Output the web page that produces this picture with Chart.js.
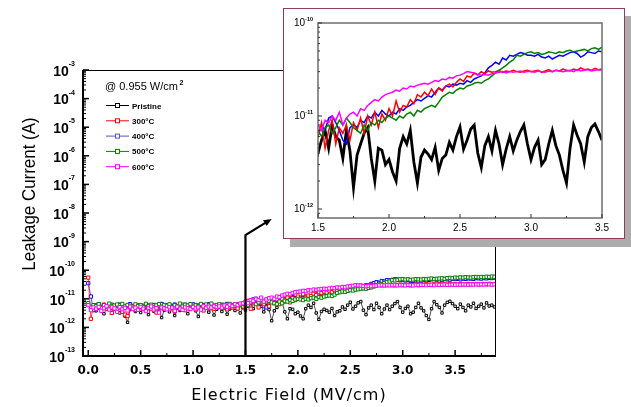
<!DOCTYPE html>
<html><head><meta charset="utf-8">
<script src="https://cdn.jsdelivr.net/npm/chart.js@4.4.1/dist/chart.umd.min.js"></script>
<style>
html,body{margin:0;padding:0;background:#fff;width:631px;height:407px;overflow:hidden;}
#main{position:absolute;left:0;top:0;}
#insetBox{position:absolute;left:283px;top:8px;width:340px;height:229px;border:1px solid #8e3b63;background:#fff;box-shadow:7px 8px 0 #adadad;}
#inset{position:absolute;left:0;top:0;}
</style></head><body>
<canvas id="main" width="631" height="407"></canvas>
<div id="insetBox"><canvas id="inset" width="340" height="229"></canvas></div>
<script>
// Electric field (MV/cm)
const fieldMVcm = [
0,0.025,0.05,0.075,0.1,0.125,0.15,0.175,0.2,0.225,
0.25,0.275,0.3,0.325,0.35,0.375,0.4,0.425,0.45,0.475,
0.5,0.525,0.55,0.575,0.6,0.625,0.65,0.675,0.7,0.725,
0.75,0.775,0.8,0.825,0.85,0.875,0.9,0.925,0.95,0.975,
1,1.025,1.05,1.075,1.1,1.125,1.15,1.175,1.2,1.225,
1.25,1.275,1.3,1.325,1.35,1.375,1.4,1.425,1.45,1.475,
1.5,1.525,1.55,1.575,1.6,1.625,1.65,1.675,1.7,1.725,
1.75,1.775,1.8,1.825,1.85,1.875,1.9,1.925,1.95,1.975,
2,2.025,2.05,2.075,2.1,2.125,2.15,2.175,2.2,2.225,
2.25,2.275,2.3,2.325,2.35,2.375,2.4,2.425,2.45,2.475,
2.5,2.525,2.55,2.575,2.6,2.625,2.65,2.675,2.7,2.725,
2.75,2.775,2.8,2.825,2.85,2.875,2.9,2.925,2.95,2.975,
3,3.025,3.05,3.075,3.1,3.125,3.15,3.175,3.2,3.225,
3.25,3.275,3.3,3.325,3.35,3.375,3.4,3.425,3.45,3.475,
3.5,3.525,3.55,3.575,3.6,3.625,3.65,3.675,3.7,3.725,
3.75,3.775,3.8,3.825,3.85,3.875];

// Leakage current, in pA (1e-12 A)
const pristine = [
6,4.5,5,3.8,5.2,4.1,3,4.6,5.3,3.9,
4.4,5.1,3.2,4.8,2.5,1.5,4.2,5,3.6,4.7,
3.3,5.2,4.1,2.8,4.9,3.7,5.3,4.4,2.2,4,
5,3.5,4.6,2.6,4.8,3.9,5.1,4.2,3,4.5,
5.4,3.8,2.4,4.7,4,5.2,3.4,4.6,2.7,4.3,
5,3.6,4.8,2.9,4.4,5.3,3.9,4.5,3.2,4.9,
4,5.5,7,4.5,8,6,5.5,3.5,7,4.2,
1.7,3.8,5,6.5,7.5,3.5,2,4.5,4.3,3,
3.4,2.5,2,4.5,6,5,7,3.2,1.9,3.6,
4.3,3.9,3.4,4.6,2.6,3.5,3.8,5.2,4.3,6,
7.6,4.4,5.5,7.2,8,4,2.8,4.8,6,4.2,
7,5,3,4.4,6,4.2,5.5,6.8,8,5,
3.4,4.6,5.5,3,3.4,5,7,4.8,3.8,2.6,
1.9,4.5,8,6.2,5,3.2,6,7.5,8.2,6.8,
5.5,4.5,6.5,5,3.8,6,5.2,7,4.6,5.5,
6.5,4.8,7.2,5.6,6,5.2];
const c300 = [
55,2,5.5,6,4.8,5.2,6.3,4.5,5.8,3.2,
5,4.4,6,3.5,2.8,2.5,4.8,5.5,4.1,6,
4.6,5.3,3.8,5.9,4.4,5,3.3,5.6,4.7,5.2,
6,4.3,5.1,3.6,5.5,4.8,6.2,4,5.3,4.6,
5.7,4.2,5,6.1,3.9,5.4,4.7,5.8,4.4,5.1,
6,4.9,5.5,4.3,6.2,5,5.7,4.6,6.3,5.4,
6,8.5,4.5,7,9,5,7.5,6.5,8,5.5,
8.5,7,9.5,6.5,10,8,11,7.5,10.5,9,
12,10,14.5,11,13,12.5,15,13.5,17,16,
18,16.5,19.5,17,20,18.5,21,22,20.5,23,
25,23.5,27,26,29,27.5,30,28.5,30.5,29.5,
30,31,29.5,30.5,30,31,30,29.5,30.5,31,
30,30.5,31,29.5,30.5,31.5,30,31,30.5,32,
31,30.5,32,31,33,31.5,32,31,32.5,31.5,
32,31.5,32.5,32,31.5,33,32,32.5,33,32,
32.5,33,32,33.5,32.5,33];
const c400 = [
35,12,4,5.5,6.5,5,6,4.8,5.5,6.2,
5.2,4.6,6.3,5.5,4.9,5.8,6.5,5,5.6,4.4,
5.9,5.3,6.4,4.7,5.5,6.1,5,5.7,6.6,5.2,
4.8,6,5.4,6.3,5.1,5.6,4.6,6.2,5.3,5.9,
6.4,5,5.8,4.9,6.1,5.5,6.5,5.2,5.7,6,
5.3,6.2,5.6,6.6,5,5.9,6.3,5.4,6.1,5.7,
6,8,7,9.5,10,8.5,7,5.5,5,7.5,
8,7.5,9,8.5,10,9.5,11,10,11.5,10.5,
10,11,10.5,12,11.5,12.5,13,14,15,14.5,
15.5,16.5,16,18,20,19,21,20.5,22,21.5,
22.5,22,24,23,25,26,27,29,33,35,
38,36,42,40,45,44,46,48,47,45,
45,44,46,43,42,44,41,43,45,44,
46,48,49,47,43,45,49,48,47,50,
49,50,48,51,50,52,51,50,53,52,
51,53,52,54,53,55];
const c500 = [
7,5,6,5.5,6.5,4.8,6,5.3,6.8,5.6,
5.8,6.3,5,6.6,5.4,6.1,5.7,4.9,6.4,5.5,
6,5.2,6.7,5.6,6.2,5,5.9,6.5,5.3,6.1,
5.7,6.4,5.1,6,5.5,6.8,5.4,6.2,5.8,6.5,
5.2,6,5.6,6.6,5.3,6.3,5.9,6.8,5.5,6.1,
6.4,5.7,6.2,5.4,6.6,6,5.8,6.5,6.1,6.7,
7,6,7.5,8,6.5,7.5,9,8,9.5,8.5,
7.5,7,6.5,8,7,8.5,8,9,8.5,9.5,
10,9.5,9,10,9.5,10.5,11,10,11.5,11,
12,12.5,13,12.5,14,16,17,18,17.5,19,
20,19.5,21,21.5,22.5,23,22.5,24,25,27,
29,31,33,35,38,40,45,44,46,48,
49,47,48,46,47,49,48,47,49,48,
50,51,49,50,51,52,50,53,54,52,
55,54,56,55,57,56,55,57,58,57,
58,57,59,58,60,59];
const c600 = [
6,4,5,4.5,5.2,3.8,4.7,5.5,4.2,5,
4.6,3.5,5.1,4.3,4.8,3.9,5.3,4.4,4.9,4.1,
5.2,4.5,3.7,4.8,5.4,4.2,4.7,3.3,5,4.6,
4.3,5.1,4.9,3.8,5.3,4.5,4.1,5,4.7,4.4,
5.2,4.6,5,4.2,5.5,4.8,5.3,4.9,5.6,5.1,
5.4,4.9,5.8,5.3,6.2,5.6,6.5,6,6.8,7,
8,7,9,8.5,10,9,11,8,9.5,10.5,
11,10,12,11.5,13,14,15,14.5,16,17,
17.5,18,19,18.5,20,19.5,21,20.5,21.5,22,
22.5,22,23,24,23.5,25,24.5,26,25.5,27,
27.5,28.5,30,29.5,29,28,27.5,28,27.5,28.5,
29,29.5,30,29,30,29.5,30,30.5,29.5,30,
30,29.5,30.5,30,29.5,30.5,30,31,30.5,30,
30.5,31,30,31.5,30.5,31,31.5,30.5,31,31.5,
31,31.5,31,32,31.5,31,32,31.5,32,31.5,
32,31.5,32.5,32,31.5,32];

const seriesNames = ['Pristine','300\u00B0C','400\u00B0C','500\u00B0C','600\u00B0C'];
const seriesColors = ['#000000','#ff0000','#0000ff','#008000','#ff00ff'];
const legendLineColors = ['#000000','#ff0000','#5555cc','#008000','#ff00ff'];
const xTicksMain = [0,0.5,1,1.5,2,2.5,3,3.5];
const yDecadesMain = [-13,-12,-11,-10,-9,-8,-7,-6,-5,-4,-3];
const xTicksInset = [1.5,2,2.5,3,3.5];
const yDecadesInset = [-12,-11,-10];
const legendTitle = '@ 0.955 W/cm';
const legendTitleSup = '2';
const xTitle = 'Electric Field (MV/cm)';
const yTitle = 'Leakage Current (A)';
const PA = 1e-12;
const arrowPath = [{x:1.5, y:1.7e-9}, {x:1.75, y:6.2e-9}];

const seriesData = [pristine, c300, c400, c500, c600];
const drawOrder = [4, 2, 3, 1, 0];
function pts(arr){ return arr.map((v,i)=>({x:fieldMVcm[i], y:v*PA})); }

function drawLine(ctx,x1,y1,x2,y2){ctx.beginPath();ctx.moveTo(x1,y1);ctx.lineTo(x2,y2);ctx.stroke();}

function drawPow(ctx, xr, yc, exp, baseFont, expFont, expRise){
  ctx.textBaseline='middle';
  ctx.font=expFont; const ew=ctx.measureText(String(exp)).width;
  ctx.font=baseFont; const bw=ctx.measureText('10').width;
  ctx.textAlign='left';
  ctx.fillText('10', xr-ew-bw, yc);
  ctx.font=expFont;
  ctx.fillText(String(exp), xr-ew, yc-expRise);
}

const mainDecor = {
  id:'mainDecor',
  afterDraw(chart){
    const {ctx, chartArea:a, scales:{x,y}} = chart;
    ctx.save();
    ctx.strokeStyle='#000'; ctx.fillStyle='#000';
    ctx.lineWidth=1;
    drawLine(ctx,a.left,a.top+0.5,a.right,a.top+0.5);
    drawLine(ctx,a.right-0.5,a.top,a.right-0.5,a.bottom);
    ctx.lineWidth=2;
    drawLine(ctx,a.left,a.top,a.left,a.bottom+1);
    drawLine(ctx,a.left-1,a.bottom,a.right,a.bottom);
    yDecadesMain.forEach((e,i)=>{
      const yy=y.getPixelForValue(Math.pow(10,e));
      ctx.lineWidth=1.5; drawLine(ctx,a.left,yy,a.left+6,yy);
      if(i<yDecadesMain.length-1){
        ctx.lineWidth=1;
        for(let m=2;m<=9;m++){const ym=y.getPixelForValue(m*Math.pow(10,e)); drawLine(ctx,a.left,ym,a.left+3,ym);}
      }
    });
    xTicksMain.forEach(v=>{
      const xx=x.getPixelForValue(v);
      ctx.lineWidth=1.5; drawLine(ctx,xx,a.bottom,xx,a.bottom-6);
      const xm=x.getPixelForValue(v+0.25);
      if(xm<a.right-2){ctx.lineWidth=1; drawLine(ctx,xm,a.bottom,xm,a.bottom-3);}
    });
    yDecadesMain.forEach(e=>{
      const yy=y.getPixelForValue(Math.pow(10,e));
      drawPow(ctx,75,yy+2,e,'bold 14px "Liberation Sans"','bold 7px "Liberation Sans"',8);
    });
    ctx.textAlign='center'; ctx.textBaseline='alphabetic';
    ctx.font='16px "DejaVu Sans"';
    ctx.letterSpacing='1px';
    ctx.fillText(xTitle, 289, 400);
    ctx.letterSpacing='0px';
    ctx.save();
    ctx.translate(35,194); ctx.rotate(-Math.PI/2); ctx.scale(0.94,1);
    ctx.font='18px "Liberation Sans"';
    ctx.fillText(yTitle,0,0);
    ctx.restore();
    ctx.textAlign='left'; ctx.textBaseline='alphabetic';
    ctx.font='11px "Liberation Sans"';
    ctx.fillText(legendTitle,105,90);
    const tw=ctx.measureText(legendTitle).width;
    ctx.font='bold 7px "Liberation Sans"';
    ctx.fillText(legendTitleSup,105+tw+1.5,85);
    seriesNames.forEach((n,k)=>{
      const ly=105.5+k*15.3;
      ctx.strokeStyle=legendLineColors[k]; ctx.lineWidth=1;
      drawLine(ctx,106,ly,129,ly);
      ctx.fillStyle='#fff'; ctx.fillRect(115.5,ly-2,4,4);
      ctx.strokeRect(115.5,ly-2,4,4);
      ctx.fillStyle='#000';
      ctx.font='bold 8px "Liberation Sans"';
      ctx.fillText(n,132,ly+3);
    });
    ctx.strokeStyle='#000'; ctx.fillStyle='#000'; ctx.lineWidth=2.2;
    const ax=x.getPixelForValue(arrowPath[0].x);
    const by=y.getPixelForValue(arrowPath[0].y);
    const tx=x.getPixelForValue(arrowPath[1].x), ty=y.getPixelForValue(arrowPath[1].y);
    ctx.beginPath(); ctx.moveTo(ax,a.bottom); ctx.lineTo(ax,by);
    const ang=Math.atan2(ty-by,tx-ax);
    const hx=tx-7*Math.cos(ang), hy=ty-7*Math.sin(ang);
    ctx.lineTo(hx,hy); ctx.stroke();
    ctx.beginPath(); ctx.moveTo(tx,ty);
    ctx.lineTo(hx+3.5*Math.sin(ang)-1*Math.cos(ang), hy-3.5*Math.cos(ang)-1*Math.sin(ang));
    ctx.lineTo(hx-3.5*Math.sin(ang)-1*Math.cos(ang), hy+3.5*Math.cos(ang)-1*Math.sin(ang));
    ctx.closePath(); ctx.fill();
    ctx.restore();
  }
};

const insetDecor = {
  id:'insetDecor',
  afterDraw(chart){
    const {ctx, chartArea:a, scales:{x,y}} = chart;
    ctx.save();
    ctx.strokeStyle='#6e6e6e'; ctx.lineWidth=1.5;
    ctx.strokeRect(a.left,a.top,a.width,a.height);
    ctx.strokeStyle='#333'; ctx.lineWidth=1;
    yDecadesInset.forEach(e=>{
      const yy=y.getPixelForValue(Math.pow(10,e));
      drawLine(ctx,a.left,yy,a.left+4,yy);
      for(let m=2;m<=9;m++){const v=m*Math.pow(10,e); if(v<=y.max*1.0001){const ym=y.getPixelForValue(v); drawLine(ctx,a.left,ym,a.left+2,ym);}}
    });
    const ym0=y.getPixelForValue(9e-13); drawLine(ctx,a.left,ym0,a.left+2,ym0);
    xTicksInset.forEach(v=>{
      const xx=x.getPixelForValue(v);
      drawLine(ctx,xx,a.bottom,xx,a.bottom-4);
      if(v+0.25<3.5){const xm=x.getPixelForValue(v+0.25); drawLine(ctx,xm,a.bottom,xm,a.bottom-2);}
    });
    ctx.fillStyle='#000';
    yDecadesInset.forEach(e=>{
      const yy=y.getPixelForValue(Math.pow(10,e));
      drawPow(ctx,29,yy,e,'10px "Liberation Sans"','bold 5.5px "Liberation Sans"',4);
    });
    ctx.restore();
  }
};

new Chart(document.getElementById('main'), {
  type:'line',
  data:{datasets: seriesData.map((arr,k)=>({
    label: seriesNames[k], data: pts(arr), borderColor: seriesColors[k], backgroundColor:'#fff',
    borderWidth:0.7, pointStyle:'rect', pointRadius: k===0?1.7:2.3, pointBorderWidth:1,
    pointBackgroundColor:'#fff', pointBorderColor: seriesColors[k], tension:0, order: drawOrder[k]
  }))},
  options:{
    responsive:false, animation:false, devicePixelRatio:1,
    layout:{padding:{left:0,top:70,right:135,bottom:0}},
    plugins:{legend:{display:false}, tooltip:{enabled:false}},
    scales:{
      x:{type:'linear', min:-0.05, max:3.89, grid:{display:false, drawTicks:false}, border:{display:false},
        afterFit(s){s.height=51;}, afterBuildTicks(s){s.ticks=xTicksMain.map(v=>({value:v}));},
        ticks:{padding:8, color:'#000', maxRotation:0, autoSkip:false,
          font:{family:'DejaVu Sans', weight:'bold', size:12}, callback:v=>Number(v).toFixed(1)}},
      y:{type:'logarithmic', min:1e-13, max:1e-3, grid:{display:false, drawTicks:false}, border:{display:false},
        ticks:{display:false}, afterFit(s){s.width=83;},
        afterBuildTicks(s){s.ticks=yDecadesMain.map(e=>({value:Math.pow(10,e)}));}}
    }
  },
  plugins:[mainDecor]
});

new Chart(document.getElementById('inset'), {
  type:'line',
  data:{datasets: seriesData.map((arr,k)=>({
    label: seriesNames[k], data: pts(arr), borderColor: seriesColors[k],
    borderWidth: k===0?2.8:1.5, pointRadius:0, tension:0, order: drawOrder[k]
  }))},
  options:{
    responsive:false, animation:false, devicePixelRatio:1,
    layout:{padding:{left:0,top:14,right:22,bottom:0}},
    plugins:{legend:{display:false}, tooltip:{enabled:false}},
    scales:{
      x:{type:'linear', min:1.5, max:3.5, grid:{display:false, drawTicks:false}, border:{display:false},
        afterFit(s){s.height=20;}, afterBuildTicks(s){s.ticks=xTicksInset.map(v=>({value:v}));},
        ticks:{padding:4, color:'#000', maxRotation:0, autoSkip:false,
          font:{family:'Liberation Sans', size:10}, callback:v=>Number(v).toFixed(1)}},
      y:{type:'logarithmic', min:0.8e-12, max:1e-10, grid:{display:false, drawTicks:false}, border:{display:false},
        ticks:{display:false}, afterFit(s){s.width=34;},
        afterBuildTicks(s){s.ticks=yDecadesInset.map(e=>({value:Math.pow(10,e)}));}}
    }
  },
  plugins:[insetDecor]
});
</script>
</body></html>
